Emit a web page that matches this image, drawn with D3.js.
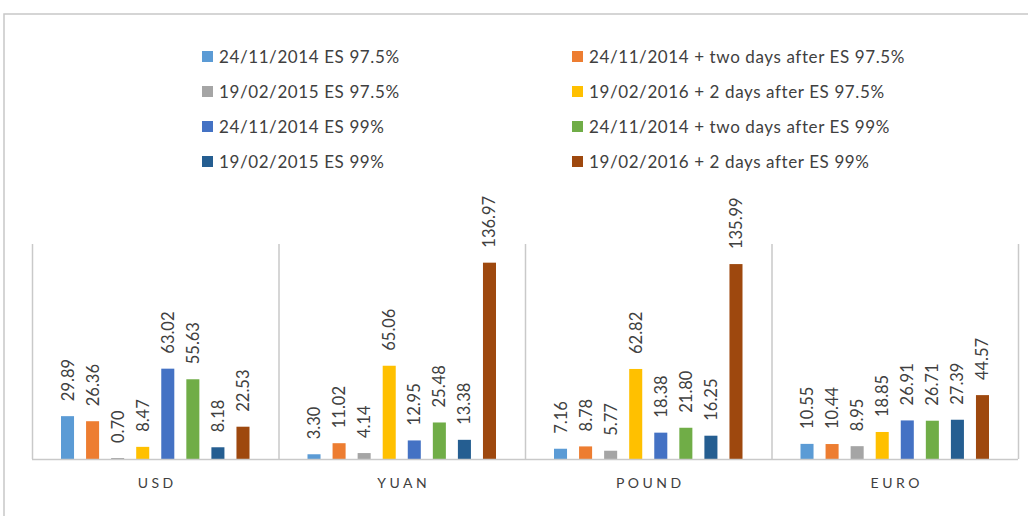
<!DOCTYPE html>
<html>
<head>
<meta charset="utf-8">
<script src="https://cdn.jsdelivr.net/npm/d3@7"></script>
<style>
  body { margin: 0; background: #fff; }
  svg { display: block; }
  text { font-family: Lato, "Open Sans", sans-serif; }
</style>
</head>
<body>
<div id="chart"></div>
<script>
var categories = ["USD", "YUAN", "POUND", "EURO"];
var seriesNames = [
  "24/11/2014 ES 97.5%",
  "24/11/2014 + two days after ES 97.5%",
  "19/02/2015 ES 97.5%",
  "19/02/2016 + 2 days after ES 97.5%",
  "24/11/2014 ES 99%",
  "24/11/2014 + two days after ES 99%",
  "19/02/2015 ES 99%",
  "19/02/2016 + 2 days after ES 99%"
];
var colors = ["#5B9BD5", "#ED7D31", "#A5A5A5", "#FFC000", "#4472C4", "#70AD47", "#255E91", "#9E480E"];
// one array per series, values in category order
var s1 = [29.89, 3.30, 7.16, 10.55];
var s2 = [26.36, 11.02, 8.78, 10.44];
var s3 = [0.70, 4.14, 5.77, 8.95];
var s4 = [8.47, 65.06, 62.82, 18.85];
var s5 = [63.02, 12.95, 18.38, 26.91];
var s6 = [55.63, 25.48, 21.80, 26.71];
var s7 = [8.18, 13.38, 16.25, 27.39];
var s8 = [22.53, 136.97, 135.99, 44.57];
var seriesValues = [s1, s2, s3, s4, s5, s6, s7, s8];

var width = 1028, height = 516;
var plot = {left: 32, right: 1018, top: 244, bottom: 459};

var svg = d3.select("#chart").append("svg")
  .attr("width", width).attr("height", height);

// chart frame
svg.append("rect")
  .attr("x", 4).attr("y", 14)
  .attr("width", 1040).attr("height", 520)
  .attr("fill", "none").attr("stroke", "#c8c8c8").attr("stroke-width", 1.5);

var x0 = d3.scaleBand().domain(categories).range([plot.left, plot.right]);
var x1 = d3.scaleBand().domain(d3.range(seriesNames.length))
  .range([29, x0.bandwidth() - 29]).paddingInner(0.48).paddingOuter(0);
var y = d3.scaleLinear().domain([0, 150]).range([plot.bottom, plot.top]);

// category separators
var seps = categories.map(function(c) { return x0(c); }).concat([plot.right]);
svg.selectAll("line.sep").data(seps).enter().append("line")
  .attr("class", "sep")
  .attr("x1", function(d) { return d + 0.5; })
  .attr("x2", function(d) { return d + 0.5; })
  .attr("y1", plot.top).attr("y2", plot.bottom)
  .attr("stroke", "#c9c9c9").attr("stroke-width", 1.5);

var groups = svg.selectAll("g.cat").data(categories).enter().append("g")
  .attr("class", "cat")
  .attr("transform", function(c) { return "translate(" + x0(c) + ",0)"; });

groups.each(function(c, ci) {
  var g = d3.select(this);
  var rows = seriesValues.map(function(vals, si) { return {si: si, v: vals[ci]}; });
  g.selectAll("rect").data(rows).enter().append("rect")
    .attr("x", function(d) { return x1(d.si); })
    .attr("width", x1.bandwidth())
    .attr("y", function(d) { return y(d.v); })
    .attr("height", function(d) { return y(0) - y(d.v); })
    .attr("fill", function(d) { return colors[d.si]; });
  g.selectAll("text.lbl").data(rows).enter().append("text")
    .attr("class", "lbl")
    .attr("transform", function(d) {
      return "translate(" + (x1(d.si) + x1.bandwidth() / 2 + 6) + "," + (y(d.v) - 15) + ") rotate(-90)";
    })
    .attr("font-size", 16.5)
    .attr("fill", "#404040")
    .text(function(d) { return d.v.toFixed(2); });
});

// baseline
svg.append("line")
  .attr("x1", plot.left).attr("x2", plot.right)
  .attr("y1", plot.bottom + 0.5).attr("y2", plot.bottom + 0.5)
  .attr("stroke", "#c9c9c9").attr("stroke-width", 1.5);

// category labels
svg.selectAll("text.cat").data(categories).enter().append("text")
  .attr("class", "cat")
  .attr("x", function(c) { return x0(c) + x0.bandwidth() / 2 + 2; })
  .attr("y", 488)
  .attr("text-anchor", "middle")
  .attr("font-size", 14)
  .attr("letter-spacing", 3.5)
  .attr("fill", "#404040")
  .text(function(c) { return c; });

// legend
var legend = svg.selectAll("g.leg").data(seriesNames).enter().append("g")
  .attr("class", "leg")
  .attr("transform", function(d, i) {
    var col = i % 2, row = Math.floor(i / 2);
    return "translate(" + (col === 0 ? 202 : 572) + "," + (57 + row * 35) + ")";
  });
legend.append("rect")
  .attr("x", 0).attr("y", -6).attr("width", 11).attr("height", 11)
  .attr("fill", function(d, i) { return colors[i]; });
legend.append("text")
  .attr("x", 17).attr("y", 6)
  .attr("font-size", 17)
  .attr("letter-spacing", 0.6)
  .attr("fill", "#404040")
  .text(function(d) { return d; });
</script>
</body>
</html>
